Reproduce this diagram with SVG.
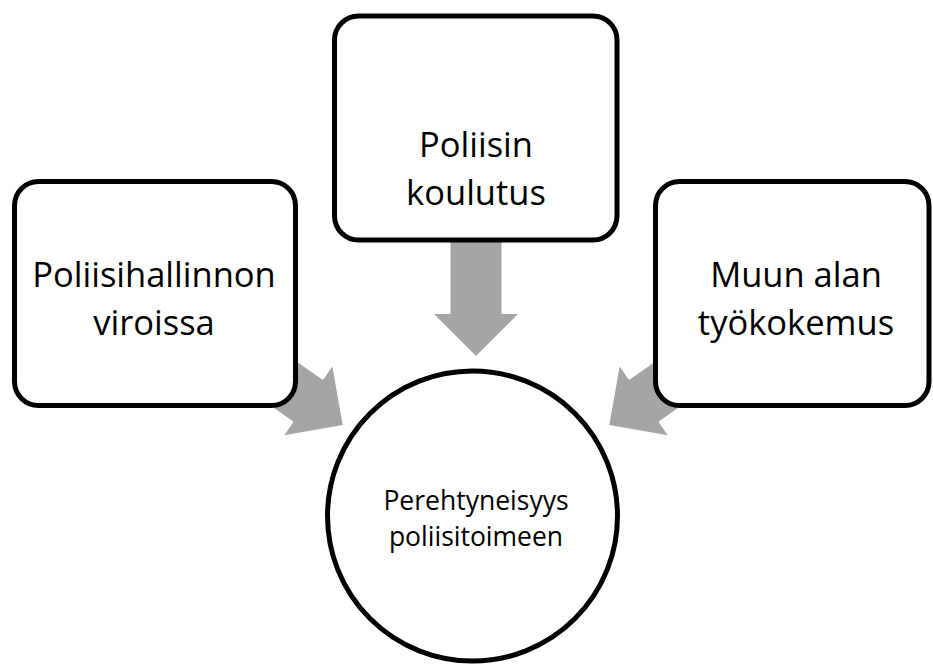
<svg xmlns="http://www.w3.org/2000/svg" width="933" height="666" viewBox="0 0 933 666">
  <defs>
    <style>
      .box { fill: #ffffff; stroke: #000000; stroke-width: 5; }
      .arrow { fill: #a5a5a5; stroke: none; }
      .label { font-family: "Open Sans", "Noto Sans", "Liberation Sans", sans-serif; fill: #000000; text-anchor: middle; }
      .big { font-size: 34.5px; }
      .small { font-size: 26.5px; }
    </style>
    <!-- block arrow pointing along +x, tip at the origin -->
    <polygon id="blockArrow" points="0,0 -42,-42 -42,-25.5 -140,-25.5 -140,25.5 -42,25.5 -42,42"/>
  </defs>

  <rect width="933" height="666" fill="#ffffff"/>

  <!-- connectors: broad grey arrows, drawn beneath the boxes -->
  <g id="connectors">
    <use href="#blockArrow" class="arrow" transform="translate(342.7,425) rotate(35)"/>
    <use href="#blockArrow" class="arrow" transform="translate(476,356) rotate(90)"/>
    <use href="#blockArrow" class="arrow" transform="translate(609.3,425) rotate(145)"/>
  </g>

  <g id="node-hallinto">
    <rect class="box" x="14.5" y="181.5" width="281" height="224" rx="24" ry="24"/>
    <text class="label big" x="154" y="287">Poliisihallinnon</text>
    <text class="label big" x="154" y="335">viroissa</text>
  </g>

  <g id="node-koulutus">
    <rect class="box" x="334.5" y="16" width="282.5" height="224" rx="24" ry="24"/>
    <text class="label big" x="476" y="157">Poliisin</text>
    <text class="label big" x="476" y="205">koulutus</text>
  </g>

  <g id="node-tyokokemus">
    <rect class="box" x="655.5" y="181.5" width="273.5" height="224" rx="24" ry="24"/>
    <text class="label big" x="796" y="287">Muun alan</text>
    <text class="label big" x="796" y="335">työkokemus</text>
  </g>

  <g id="node-perehtyneisyys">
    <circle class="box" cx="472.5" cy="516" r="145"/>
    <text class="label small" x="476" y="510">Perehtyneisyys</text>
    <text class="label small" x="476" y="546">poliisitoimeen</text>
  </g>
</svg>
